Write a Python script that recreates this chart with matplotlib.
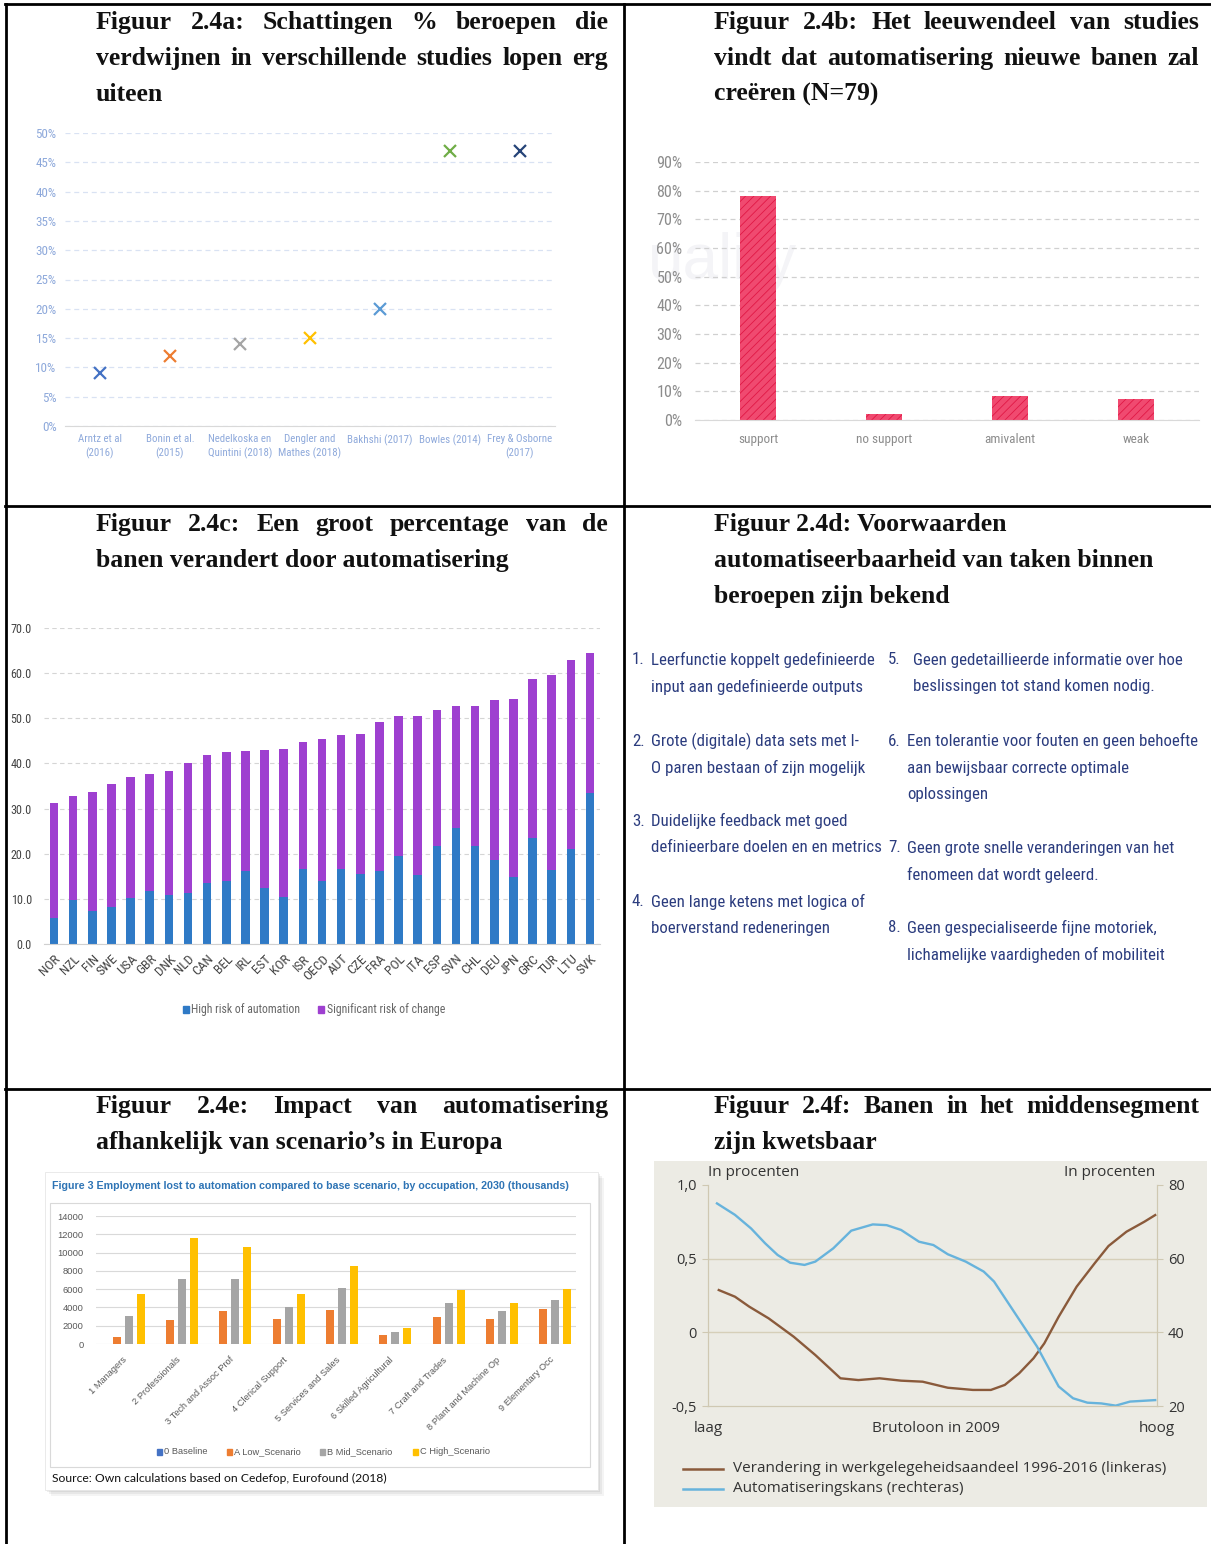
import os
import matplotlib
matplotlib.use('Agg')
import matplotlib.pyplot as plt
from matplotlib import font_manager as fm
from matplotlib.patches import Rectangle
from matplotlib.lines import Line2D

# ---------------- data ----------------
studies = ["Arntz et al\n(2016)", "Bonin et al.\n(2015)", "Nedelkoska en\nQuintini (2018)",
           "Dengler and\nMathes (2018)", "Bakhshi (2017)", "Bowles (2014)", "Frey & Osborne\n(2017)"]
study_pct = [9, 12, 14, 15, 20, 47, 47]

support_cats = ["support", "no support", "amivalent", "weak"]
support_pct = [78, 2, 8.5, 7.5]

countries = ["NOR", "NZL", "FIN", "SWE", "USA", "GBR", "DNK", "NLD", "CAN", "BEL", "IRL", "EST",
             "KOR", "ISR", "OECD", "AUT", "CZE", "FRA", "POL", "ITA", "ESP", "SVN", "CHL", "DEU",
             "JPN", "GRC", "TUR", "LTU", "SVK"]
high_risk = [5.8, 9.8, 7.2, 8.1, 10.1, 11.7, 10.9, 11.4, 13.5, 13.9, 16.2, 12.5,
             10.4, 16.6, 13.9, 16.6, 15.5, 16.2, 19.6, 15.2, 21.6, 25.6, 21.6, 18.5,
             14.8, 23.4, 16.5, 21.1, 33.4]
significant_change = [25.4, 22.9, 26.5, 27.3, 27.0, 25.9, 27.4, 28.6, 28.4, 28.6, 26.5, 30.4,
                      32.8, 28.2, 31.6, 29.6, 31.0, 32.9, 30.8, 35.4, 30.2, 27.1, 31.1, 35.6,
                      39.5, 35.2, 43.1, 41.9, 31.1]

occupations = ["1 Managers", "2 Professionals", "3 Tech and Assoc Prof", "4 Clerical Support",
               "5 Services and Sales", "6 Skilled Agricultural", "7 Craft and Trades",
               "8 Plant and Machine Op", "9 Elementary Occ"]
scen_baseline = [0, 0, 0, 0, 0, 0, 0, 0, 0]
scen_low = [750, 2600, 3600, 2700, 3700, 950, 3000, 2700, 3800]
scen_mid = [3100, 7100, 7100, 4050, 6100, 1350, 4450, 3600, 4850]
scen_high = [5450, 11600, 10600, 5450, 8500, 1700, 5950, 4450, 6000]

wage_pos_emp = [0.024, 0.06, 0.092, 0.135, 0.191, 0.239, 0.271, 0.295, 0.335, 0.382, 0.43, 0.478,
                0.534, 0.59, 0.63, 0.661, 0.693, 0.725, 0.749, 0.781, 0.821, 0.861, 0.892, 0.932,
                0.972, 0.996]
emp_change = [0.287, 0.242, 0.174, 0.095, -0.03, -0.154, -0.244, -0.312, -0.324, -0.312, -0.328,
              -0.335, -0.376, -0.391, -0.391, -0.357, -0.278, -0.176, -0.075, 0.106, 0.31, 0.468,
              0.586, 0.683, 0.751, 0.796]
wage_pos_auto = [0.02, 0.06, 0.096, 0.127, 0.155, 0.183, 0.215, 0.239, 0.279, 0.319, 0.367, 0.398,
                 0.43, 0.47, 0.502, 0.534, 0.574, 0.614, 0.637, 0.669, 0.701, 0.733, 0.757, 0.781,
                 0.813, 0.845, 0.876, 0.908, 0.94, 0.996]
auto_prob = [75.0, 71.9, 68.2, 64.2, 61.0, 58.9, 58.3, 59.2, 62.8, 67.6, 69.3, 69.1, 67.8, 64.6,
             63.7, 61.2, 59.2, 56.5, 53.8, 47.9, 42.0, 36.1, 30.7, 25.3, 22.1, 20.9, 20.7, 20.1,
             21.2, 21.6]

conditions_left = [
    ("1.", ["Leerfunctie koppelt gedefinieerde", "input aan gedefinieerde outputs"]),
    ("2.", ["Grote (digitale) data sets met I-", "O paren bestaan of zijn mogelijk"]),
    ("3.", ["Duidelijke feedback met goed", "definieerbare doelen en en metrics"]),
    ("4.", ["Geen lange ketens met logica of", "boerverstand redeneringen"]),
]
conditions_right = [
    ("5.", ["Geen gedetaillieerde informatie over hoe", "beslissingen tot stand komen nodig."]),
    ("6.", ["Een tolerantie voor fouten en geen behoefte", "aan bewijsbaar correcte optimale", "oplossingen"]),
    ("7.", ["Geen grote snelle veranderingen van het", "fenomeen dat wordt geleerd."]),
    ("8.", ["Geen gespecialiseerde fijne motoriek,", "lichamelijke vaardigheden of mobiliteit"]),
]


# ---------------- fonts ----------------
def pick_narrow():
    bad = ('bold', 'italic', 'oblique', 'light', 'thin', 'black', 'medium', 'semibold', 'heavy')
    prefs = ['notosans-extracondensed.', 'liberationsansnarrow-regular', 'robotocondensed-regular',
             'notosans-condensed.', 'opensans_condensed-regular', 'opensans-condensedregular',
             'dejavusanscondensed.', 'notosans-semicondensed.', 'opensans_semicondensed-regular']
    cands = []
    for f in fm.fontManager.ttflist:
        base = os.path.basename(f.fname).lower()
        if ('narrow' in base or 'condensed' in base) and not any(b in base for b in bad):
            cands.append((base, f.fname))
    for p in prefs:
        for base, path in cands:
            if base.startswith(p):
                return path
    if cands:
        return sorted(cands)[0][1]
    return None


NARROW_PATH = pick_narrow()


def hand(size):
    if NARROW_PATH:
        return fm.FontProperties(fname=NARROW_PATH, size=size)
    return fm.FontProperties(family='DejaVu Sans', size=size)


SERIF = ['Liberation Serif', 'DejaVu Serif']
SANS = ['Liberation Sans', 'DejaVu Sans']

# ---------------- setup ----------------
W, H = 1211, 1544
fig = plt.figure(figsize=(W / 100, H / 100), dpi=100)
bg = fig.add_axes([0, 0, 1, 1], zorder=-1)
bg.set_xlim(0, W)
bg.set_ylim(H, 0)
bg.axis('off')
renderer = fig.canvas.get_renderer()
plt.rcParams['hatch.linewidth'] = 0.6


def fit_size(sample, target_px, base=10.0):
    t = bg.text(0, 0, sample, fontproperties=hand(base))
    w = t.get_window_extent(renderer).width
    t.remove()
    return base * target_px / w


def rect(x0, y0, x1, y1):
    return [x0 / W, 1 - y1 / H, (x1 - x0) / W, (y1 - y0) / H]


# table borders
bg.plot([5, W], [4, 4], color='black', lw=2)
bg.plot([6, 6], [4, H], color='black', lw=2)
bg.plot([624, 624], [4, H], color='black', lw=2)
bg.plot([5, W], [506, 506], color='black', lw=2)
bg.plot([5, W], [1089, 1089], color='black', lw=2)

TFS = 18.5


def title_block(x0, x1, ybase, lines, justify):
    for k, (line, just) in enumerate(zip(lines, justify)):
        y = ybase + 36 * k
        words = line.split(' ')
        if not just or len(words) == 1:
            bg.text(x0, y, line, fontsize=TFS, fontweight='bold', family=SERIF,
                    ha='left', va='baseline', color='#111111')
            continue
        texts = [bg.text(0, y, w, fontsize=TFS, fontweight='bold', family=SERIF,
                         ha='left', va='baseline', color='#111111') for w in words]
        widths = [t.get_window_extent(renderer).width for t in texts]
        gap = (x1 - x0 - sum(widths)) / (len(words) - 1)
        x = x0
        for t, wd in zip(texts, widths):
            t.set_x(x)
            x += wd + gap


title_block(96, 608, 29, ["Figuur 2.4a: Schattingen % beroepen die",
                          "verdwijnen in verschillende studies lopen erg", "uiteen"], [True, True, False])
title_block(714, 1199, 29, ["Figuur 2.4b: Het leeuwendeel van studies",
                            "vindt dat automatisering nieuwe banen zal", "creëren (N=79)"], [True, True, False])
title_block(96, 608, 531, ["Figuur 2.4c: Een groot percentage van de",
                           "banen verandert door automatisering"], [True, False])
title_block(714, 1199, 531, ["Figuur 2.4d: Voorwaarden",
                             "automatiseerbaarheid van taken binnen", "beroepen zijn bekend"], [False, False, False])
title_block(96, 608, 1113, ["Figuur 2.4e: Impact van automatisering",
                            "afhankelijk van scenario’s in Europa"], [True, False])
title_block(714, 1199, 1113, ["Figuur 2.4f: Banen in het middensegment",
                              "zijn kwetsbaar"], [True, False])


def style_labels(labels, size):
    for lab in labels:
        lab.set_fontproperties(hand(size))


# ---------------- panel a ----------------
A_FS = fit_size("Frey & Osborne", 65)
AY_FS = fit_size("50%", 21)
study_colors = ['#4472C4', '#ED7D31', '#A5A5A5', '#FFC000', '#5B9BD5', '#70AD47', '#264478']
axa = fig.add_axes(rect(65, 133, 555, 426))
for i, (v, c) in enumerate(zip(study_pct, study_colors)):
    axa.plot(i, v, marker='x', color=c, ms=8, mew=1.6, ls='none')
axa.set_xlim(-0.5, len(studies) - 0.5)
axa.set_ylim(0, 50)
axa.set_yticks(range(0, 51, 5))
axa.set_yticklabels([f"{t}%" for t in range(0, 51, 5)])
axa.set_xticks(range(len(studies)))
axa.set_xticklabels(studies, linespacing=1.3)
axa.tick_params(length=0, labelcolor='#8EA9DB', pad=6)
style_labels(axa.get_xticklabels(), A_FS)
style_labels(axa.get_yticklabels(), AY_FS)
axa.grid(axis='y', ls=(0, (4, 3)), color='#D9E2F3', lw=0.9)
for s in ['top', 'right', 'left']:
    axa.spines[s].set_visible(False)
axa.spines['bottom'].set_color('#D9D9D9')
axa.set_axisbelow(True)

# ---------------- panel b ----------------
B_FS = fit_size("no support", 56)
BY_FS = fit_size("90%", 26)
bg.text(722, 262, "uality", fontsize=46, color='#F4F4F7', ha='center', va='center', family=SANS)
axb = fig.add_axes(rect(695, 162, 1199, 420))
axb.set_facecolor('none')
axb.bar(range(len(support_cats)), support_pct, width=0.29, color='#F04A70', hatch='////',
        edgecolor='#E01845', lw=0)
axb.set_xlim(-0.5, len(support_cats) - 0.5)
axb.set_ylim(0, 90)
axb.set_yticks(range(0, 91, 10))
axb.set_yticklabels([f"{t}%" for t in range(0, 91, 10)])
axb.set_xticks(range(len(support_cats)))
axb.set_xticklabels(support_cats)
axb.tick_params(length=0, labelcolor='#8C8C8C', pad=9)
style_labels(axb.get_xticklabels(), B_FS)
style_labels(axb.get_yticklabels(), BY_FS)
axb.grid(axis='y', ls=(0, (4, 3)), color='#D0D0D0', lw=0.9)
for s in ['top', 'right', 'left']:
    axb.spines[s].set_visible(False)
axb.spines['bottom'].set_color('#D9D9D9')
axb.set_axisbelow(True)

# ---------------- panel c ----------------
C_FS = fit_size("High risk of automation", 108)
CY_FS = fit_size("70.0", 21)
axc = fig.add_axes(rect(44.4, 628, 599.6, 944))
xs = range(len(countries))
axc.bar(xs, high_risk, width=0.45, color='#2F7AC6', label='High risk of automation')
axc.bar(xs, significant_change, bottom=high_risk, width=0.45, color='#9E40D0',
        label='Significant risk of change')
axc.set_xlim(-0.5, len(countries) - 0.5)
axc.set_ylim(0, 70)
axc.set_yticks(range(0, 71, 10))
axc.set_yticklabels([f"{t:.1f}" for t in range(0, 71, 10)])
axc.set_xticks(list(xs))
axc.set_xticklabels(countries, rotation=45, ha='right', rotation_mode='anchor')
axc.tick_params(length=0, labelcolor='#444444')
axc.tick_params(axis='y', pad=9)
axc.tick_params(axis='x', pad=6)
style_labels(axc.get_xticklabels(), C_FS * 1.15)
style_labels(axc.get_yticklabels(), CY_FS)
axc.grid(axis='y', ls=(0, (4, 3)), color='#D5D5D5', lw=0.8)
for s in ['top', 'right', 'left']:
    axc.spines[s].set_visible(False)
axc.spines['bottom'].set_color('#D0D0D0')
axc.set_axisbelow(True)
bg.add_patch(Rectangle((183, 1006), 6, 7, color='#2F7AC6'))
bg.text(191, 1010, "High risk of automation", fontproperties=hand(C_FS), color='#666666', va='center')
bg.add_patch(Rectangle((318, 1006), 6, 7, color='#9E40D0'))
bg.text(327, 1010, "Significant risk of change", fontproperties=hand(C_FS), color='#666666', va='center')

# ---------------- panel d ----------------
DCOL = '#2B3C7E'
DFS = fit_size("Leerfunctie koppelt gedefinieerde", 222)
yl = [660, 741, 821, 902]
for (num, lines), y0 in zip(conditions_left, yl):
    bg.text(632, y0, num, fontproperties=hand(DFS), color=DCOL, va='center')
    for k, ln in enumerate(lines):
        bg.text(651, y0 + 27 * k, ln, fontproperties=hand(DFS), color=DCOL, va='center')
yr = [660, 741, 848, 928]
xr = [913, 907, 907, 907]
for (num, lines), y0, xt in zip(conditions_right, yr, xr):
    bg.text(888, y0, num, fontproperties=hand(DFS), color=DCOL, va='center')
    for k, ln in enumerate(lines):
        bg.text(xt, y0 + 27 * k, ln, fontproperties=hand(DFS), color=DCOL, va='center')

# ---------------- panel e ----------------
for off, a in [(6, 0.08), (4, 0.10), (2, 0.12)]:
    bg.add_patch(Rectangle((45 + off, 1172 + off), 553, 318, color='#777777', alpha=a, lw=0))
bg.add_patch(Rectangle((45, 1172), 553, 318, facecolor='white', edgecolor='#E6E6E6', lw=0.6))
bg.add_patch(Rectangle((50, 1203), 540, 264, facecolor='none', edgecolor='#D9D9D9', lw=0.8))
bg.text(52, 1186, "Figure 3 Employment lost to automation compared to base scenario, by occupation, 2030 (thousands)",
        fontsize=7.7, fontweight='bold', color='#2E74B5', va='center', family=SANS)
axe = fig.add_axes(rect(96, 1216, 576, 1344))
ox = range(len(occupations))
step = 0.225
bw = 0.15
scen_cols = ['#4472C4', '#ED7D31', '#A5A5A5', '#FFC000']
scen_names = ['0 Baseline', 'A Low_Scenario', 'B Mid_Scenario', 'C High_Scenario']
for j, (vals, col) in enumerate(zip([scen_baseline, scen_low, scen_mid, scen_high], scen_cols)):
    axe.bar([x + (j - 1.5) * step for x in ox], vals, width=bw, color=col)
axe.set_xlim(-0.5, len(occupations) - 0.5)
axe.set_ylim(0, 14000)
axe.set_yticks(range(0, 14001, 2000))
axe.set_xticks(list(ox))
axe.set_xticklabels(occupations, rotation=45, ha='right', rotation_mode='anchor')
axe.tick_params(length=0, labelsize=6.7, labelcolor='#595959')
axe.tick_params(axis='y', pad=9)
axe.tick_params(axis='x', pad=8)
for lab in axe.get_xticklabels() + axe.get_yticklabels():
    lab.set_family(SANS)
axe.grid(axis='y', color='#D9D9D9', lw=0.8)
for s in ['top', 'right', 'left', 'bottom']:
    axe.spines[s].set_visible(False)
axe.set_axisbelow(True)
for xsq, name, col in zip([157, 227, 320, 413], scen_names, scen_cols):
    bg.add_patch(Rectangle((xsq, 1449), 5, 6, color=col))
    bg.text(xsq + 7, 1452, name, fontsize=6.7, color='#595959', va='center', family=SANS)
bg.text(52, 1478, "Source: Own calculations based on Cedefop, Eurofound (2018)", fontsize=8.7,
        color='#111111', va='center', family=['Lato', 'DejaVu Sans'])

# ---------------- panel f ----------------
FF = ['Open Sans', 'DejaVu Sans']
bg.add_patch(Rectangle((654, 1161), 553, 346, color='#ECEBE4', lw=0))
axf = fig.add_axes(rect(708, 1185, 1157, 1406))
axf.set_facecolor('none')
axf2 = axf.twinx()
axf.axhline(0.5, color='#D6CFB9', lw=1)
axf.axhline(0.0, color='#D6CFB9', lw=1)
axf.plot(wage_pos_emp, emp_change, color='#8A5A3B', lw=1.7)
axf2.plot(wage_pos_auto, auto_prob, color='#67B3DC', lw=1.7)
axf.set_xlim(0, 1)
axf.set_ylim(-0.5, 1.0)
axf2.set_ylim(20, 80)
axf.set_yticks([-0.5, 0, 0.5, 1.0])
axf.set_yticklabels(['-0,5', '0', '0,5', '1,0'])
axf2.set_yticks([20, 40, 60, 80])
axf.set_xticks([])
for a in (axf, axf2):
    a.spines['top'].set_visible(False)
    for s in ['left', 'right', 'bottom']:
        a.spines[s].set_color('#CFC8B2')
    a.tick_params(axis='y', length=4, color='#CFC8B2', labelsize=10.5, labelcolor='#333333', pad=4)
    for lab in a.get_yticklabels():
        lab.set_family(FF)
bg.text(708, 1172, "In procenten", fontsize=11, color='#333333', va='center', ha='left', family=FF)
bg.text(1155, 1172, "In procenten", fontsize=11, color='#333333', va='center', ha='right', family=FF)
bg.text(708, 1429, "laag", fontsize=11, color='#333333', va='center', ha='center', family=FF)
bg.text(936, 1429, "Brutoloon in 2009", fontsize=11, color='#333333', va='center', ha='center', family=FF)
bg.text(1157, 1429, "hoog", fontsize=11, color='#333333', va='center', ha='center', family=FF)
bg.add_line(Line2D([683, 723], [1469, 1469], color='#8A5A3B', lw=1.8))
bg.add_line(Line2D([683, 723], [1489, 1489], color='#67B3DC', lw=1.8))
bg.text(733, 1469, "Verandering in werkgelegeheidsaandeel 1996-2016 (linkeras)", fontsize=11,
        color='#333333', va='center', family=FF)
bg.text(733, 1489, "Automatiseringskans (rechteras)", fontsize=11, color='#333333', va='center', family=FF)

fig.savefig('out.png', dpi=100)
